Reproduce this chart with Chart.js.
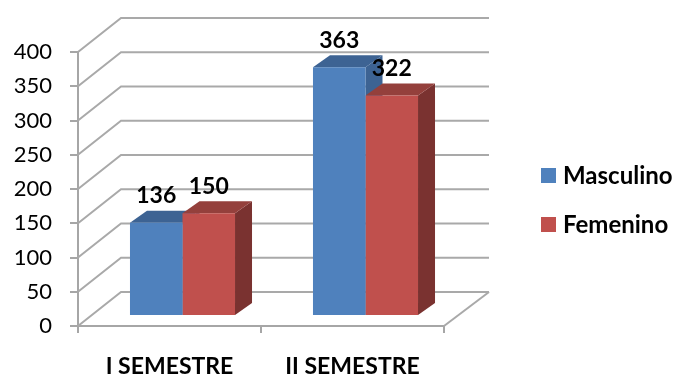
<!DOCTYPE html>
<html>
<head>
<meta charset="utf-8">
<script src="https://cdn.jsdelivr.net/npm/chart.js@4"></script>
<style>
    html, body { margin: 0; padding: 0; background: #fff; }
    canvas { display: block; filter: blur(0.45px); }
</style>
</head>
<body>
<canvas id="grafico" width="676" height="377"></canvas>
<script>
const categorias = ["I SEMESTRE", "II SEMESTRE"];
const masculino = [136, 363];
const femenino = [150, 322];
const ticksY = [0, 50, 100, 150, 200, 250, 300, 350, 400];

const fuente = "Lato, 'Open Sans', sans-serif";
const colorEje = "#a6a6a6";
const colorGrid = "#a9a9a9";

//Profundidad de la caja 3D, de las barras y posicion de las barras en el piso
const cajaX = 43, cajaY = 34;
const barraX = 17, barraY = 12;
const pisoX = 13, pisoY = 10;

const colores = [
    { frente: "#4f81bd", arriba: "#3d6393", lado: "#3d6393" },
    { frente: "#c0504d", arriba: "#94403c", lado: "#7a3230" }
];

function poligono(ctx, puntos, color){
    ctx.fillStyle = color;
    ctx.beginPath();
    puntos.forEach((p, i) => i === 0 ? ctx.moveTo(p[0], p[1]) : ctx.lineTo(p[0], p[1]));
    ctx.closePath();
    ctx.fill();
}

//Plugin que dibuja las paredes, la cara superior y lateral de las barras,
//las etiquetas de valor y la leyenda
const efecto3D = {
    id: "efecto3D",
    beforeDatasetsDraw(chart){
        const ctx = chart.ctx;
        const area = chart.chartArea;
        const escalaY = chart.scales.y;

        ctx.save();
        ctx.strokeStyle = colorGrid;
        ctx.lineWidth = 2;
        ticksY.forEach(t => {
            const y = escalaY.getPixelForValue(t);
            ctx.beginPath();
            ctx.moveTo(area.left, y);
            ctx.lineTo(area.left + cajaX, y - cajaY);
            ctx.lineTo(area.right + cajaX + 2, y - cajaY);
            ctx.stroke();
        });
        //Borde derecho del piso
        ctx.beginPath();
        ctx.moveTo(area.right, area.bottom);
        ctx.lineTo(area.right + cajaX + 2, area.bottom - cajaY);
        ctx.stroke();

        //Caras de profundidad, primero masculino y luego femenino
        ctx.translate(pisoX, -pisoY);
        chart.data.datasets.forEach((d, i) => {
            chart.getDatasetMeta(i).data.forEach(b => {
                const izq = b.x - b.width / 2, der = b.x + b.width / 2;
                poligono(ctx, [[der, b.y], [der + barraX, b.y - barraY], [der + barraX, b.base - barraY], [der, b.base]], colores[i].lado);
                poligono(ctx, [[izq, b.y], [izq + barraX, b.y - barraY], [der + barraX, b.y - barraY], [der, b.y]], colores[i].arriba);
            });
        });
        ctx.restore();

        //Las caras frontales se dibujan desplazadas sobre el piso
        ctx.save();
        ctx.translate(pisoX, -pisoY);
    },
    afterDatasetsDraw(chart){
        const ctx = chart.ctx;
        ctx.restore();

        ctx.save();
        ctx.fillStyle = "#000";
        ctx.font = "bold 23px " + fuente;
        ctx.textAlign = "center";
        ctx.textBaseline = "middle";
        chart.data.datasets.forEach((d, i) => {
            chart.getDatasetMeta(i).data.forEach((b, j) => {
                ctx.fillText(d.data[j], b.x + pisoX, b.y - pisoY - 27);
            });
        });

        //Leyenda
        ctx.textAlign = "left";
        ctx.font = "bold 24px " + fuente;
        chart.data.datasets.forEach((d, i) => {
            const y = 175 + i * 49;
            ctx.fillStyle = colores[i].frente;
            ctx.fillRect(541, y - 7, 15, 15);
            ctx.fillStyle = "#000";
            ctx.fillText(d.label, 563, y + 1);
        });
        ctx.restore();
    }
};

new Chart("grafico", {
    type: "bar",
    data: {
        labels: categorias,
        datasets: [
            { label: "Masculino", data: masculino, backgroundColor: colores[0].frente },
            { label: "Femenino", data: femenino, backgroundColor: colores[1].frente }
        ]
    },
    options: {
        responsive: false,
        animation: false,
        layout: { padding: { top: 52, right: 232, bottom: 0, left: 0 } },
        plugins: {
            legend: { display: false },
            tooltip: { enabled: false }
        },
        datasets: { bar: { categoryPercentage: 0.574, barPercentage: 1 } },
        scales: {
            x: {
                afterFit: s => { s.height = 51; },
                grid: { drawOnChartArea: false, color: colorEje, lineWidth: 2, tickLength: 7 },
                border: { color: colorEje, width: 2 },
                ticks: { color: "#000", padding: 20, font: { family: fuente, size: 23, weight: "bold" } }
            },
            y: {
                min: 0,
                max: 400,
                afterFit: s => { s.width = 78; },
                afterBuildTicks: s => { s.ticks = ticksY.map(v => ({ value: v })); },
                grid: { drawOnChartArea: false, color: colorEje, lineWidth: 2, tickLength: 8 },
                border: { color: colorEje, width: 2 },
                ticks: { color: "#000", padding: 18, font: { family: fuente, size: 22 } }
            }
        }
    },
    plugins: [efecto3D]
});
</script>
</body>
</html>
